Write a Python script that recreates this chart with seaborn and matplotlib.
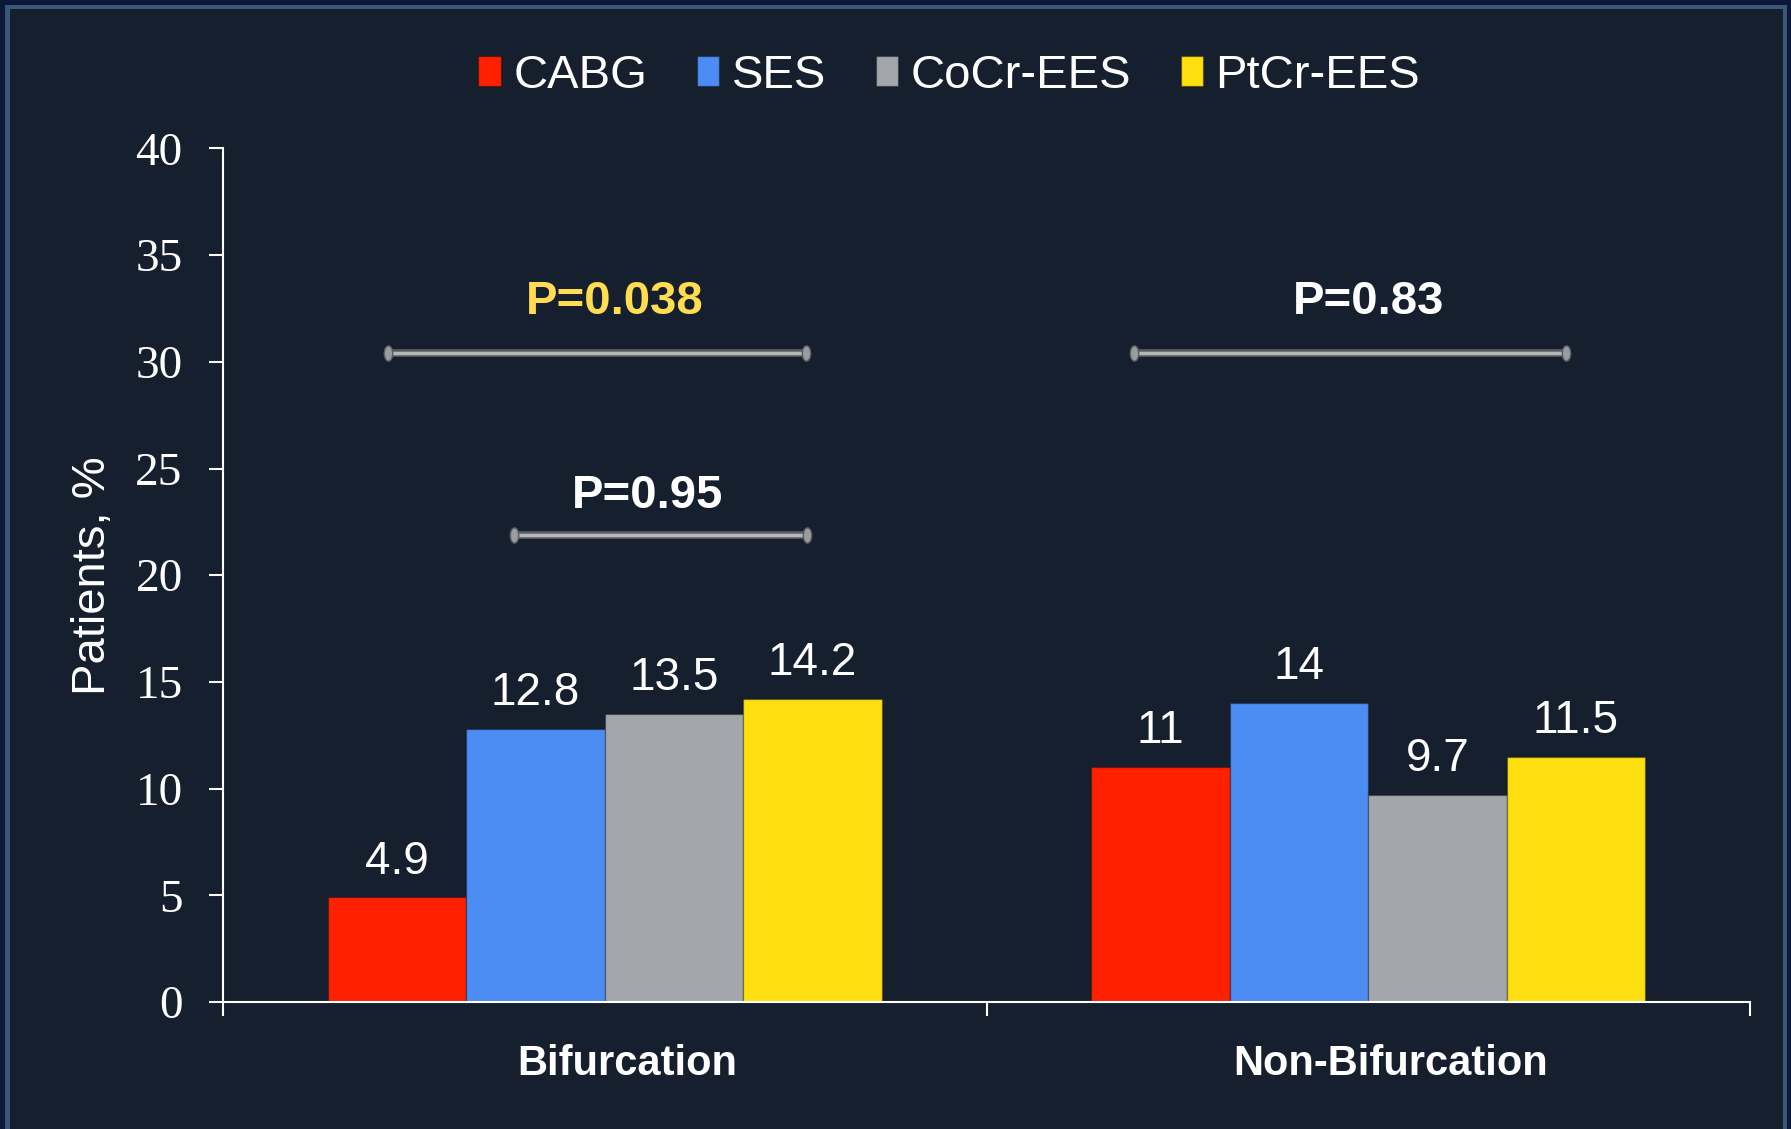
import pandas as pd
import seaborn as sns
import matplotlib.pyplot as plt
import matplotlib.patches as mpatches
from matplotlib.path import Path
from matplotlib.transforms import Affine2D, ScaledTranslation

groups = ['Bifurcation', 'Non-Bifurcation']
devices = ['CABG', 'SES', 'CoCr-EES', 'PtCr-EES']
bifurcation = [4.9, 12.8, 13.5, 14.2]
non_bifurcation = [11, 14, 9.7, 11.5]
y_ticks = [0, 5, 10, 15, 20, 25, 30, 35, 40]

# p-value comparisons: bracket span (data x), bracket level, label, label position
p_labels = ['P=0.038', 'P=0.95', 'P=0.83']
p_spans = [(-0.284, 0.264), (-0.119, 0.265), (0.693, 1.259)]
p_levels = [30.4, 21.9, 30.4]
p_label_x = [0.013, 0.056, 1.0]
p_label_y = [32.8, 23.7, 32.8]
p_colors = ['#ffdc50', 'white', 'white']

colors = ['#ff2000', '#4d8cf2', '#a3a6ab', '#ffdf10']
bg = '#161f2d'

df = pd.DataFrame({
    'group': [g for g in groups for _ in devices],
    'device': devices * len(groups),
    'value': bifurcation + non_bifurcation,
})

sns.set_theme(style='white')
plt.rcParams['font.family'] = ['Liberation Sans', 'DejaVu Sans']

W, H = 1791, 1129
fig = plt.figure(figsize=(W / 100, H / 100), dpi=100)
fig.patch.set_facecolor('#0b1838')
fig.add_artist(mpatches.Rectangle((5 / W, -0.01), 1782 / W, (1124 / H) + 0.01,
                                  transform=fig.transFigure, facecolor='#3b5677',
                                  edgecolor='none', zorder=-3))
fig.add_artist(mpatches.Rectangle((9.5 / W, -0.01), 1773 / W, (1120 / H) + 0.01,
                                  transform=fig.transFigure, facecolor=bg,
                                  edgecolor='none', zorder=-2))

ax = fig.add_axes([223 / W, 1 - 1002 / H, 1527 / W, (1002 - 148.5) / H])
ax.set_facecolor('none')

sns.barplot(data=df, x='group', y='value', hue='device', hue_order=devices,
            palette=colors, saturation=1, width=0.725, gap=0, legend=False, ax=ax)

for cont, col in zip(ax.containers, colors):
    for bar in cont:
        bar.set_edgecolor((0, 0, 0, 0.25))
        bar.set_linewidth(1)
    ax.bar_label(cont, labels=[f'{b.get_height():g}' for b in cont],
                 padding=10, color='white', fontsize=33)

ax.set_xlim(-0.5, 1.5)
ax.set_ylim(0, 40)
ax.set_yticks(y_ticks)
ax.set_yticklabels([str(t) for t in y_ticks], family=['Liberation Serif', 'DejaVu Serif'],
                   fontsize=34, color='white')
ax.tick_params(axis='y', direction='out', length=10, width=1.5, color='white', pad=19, left=True)

ax.set_xticks([0, 1])
ax.set_xticklabels(groups, fontsize=30, fontweight='bold', color='white')
ax.set_xticks([-0.5, 0.5, 1.5], minor=True)
ax.tick_params(axis='x', which='major', length=0, pad=30)
ax.tick_params(axis='x', which='minor', direction='out', length=10, width=1.5,
               color='white', bottom=True)
shift = ScaledTranslation(0.22, 0, fig.dpi_scale_trans)
for lab in ax.get_xticklabels():
    lab.set_transform(lab.get_transform() + shift)

ax.set_xlabel('')
ax.set_ylabel('Patients, %', fontsize=34, color='white')
ax.yaxis.set_label_coords(-0.071, 0.5)

sns.despine(ax=ax)
for side in ['left', 'bottom']:
    ax.spines[side].set_color('white')
    ax.spines[side].set_linewidth(1.5)

cap = Path.unit_circle().transformed(Affine2D().scale(0.55, 1.0))
for (x0, x1), lvl, txt, tx, ty, tc in zip(p_spans, p_levels, p_labels,
                                            p_label_x, p_label_y, p_colors):
    ax.plot([x0, x1], [lvl, lvl], color='#5a5e63', lw=5.5, solid_capstyle='butt', zorder=4)
    ax.plot([x0, x1], [lvl, lvl], color='#b4b6b8', lw=2.5, marker=cap, markersize=11,
            markerfacecolor='#9a9c9f', markeredgecolor='#5a5e63', markeredgewidth=1, zorder=5)
    ax.text(tx, ty, txt, ha='center', va='center', fontsize=34, fontweight='bold',
            color=tc, zorder=6)

handles = [mpatches.Patch(facecolor=c, edgecolor=(0, 0, 0, 0.3), label=d)
           for c, d in zip(colors, devices)]
fig.legend(handles=handles, loc='center', bbox_to_anchor=(0.53, 0.933), ncol=4,
           frameon=False, fontsize=34, labelcolor='white', handlelength=0.47,
           handleheight=0.62, handletextpad=0.27, columnspacing=1.05)

fig.savefig('out.png', dpi=100, facecolor=fig.get_facecolor())
